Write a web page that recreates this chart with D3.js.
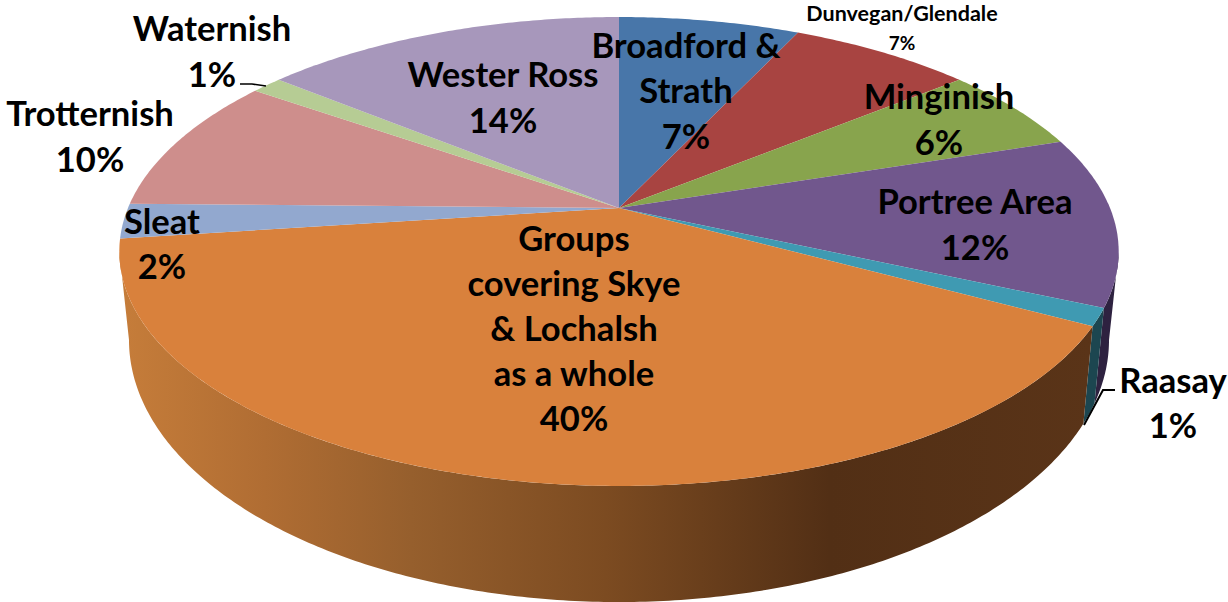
<!DOCTYPE html>
<html>
<head>
<meta charset="utf-8">
<script src="https://cdn.jsdelivr.net/npm/d3@7"></script>
<style>
  html,body{margin:0;padding:0;background:#fff;}
  svg{display:block;}
  text{font-family:Lato,"Open Sans",sans-serif;font-weight:700;fill:#000;}
</style>
</head>
<body>
<div id="chart"></div>
<script>
/* data, clockwise from 12 o'clock */
const AREAS=["Broadford & Strath","Dunvegan/Glendale","Minginish","Portree Area","Raasay",
             "Groups covering Skye & Lochalsh as a whole","Sleat","Trotternish","Waternish","Wester Ross"];
const SHARES=[7.0,7.1,5.9,11.7,1.2,40.0,2.4,9.4,1.2,14.1];
const PCT_LABELS=["7%","7%","6%","12%","1%","40%","2%","10%","1%","14%"];
const TOP_COLS=["#4876a9","#a84441","#88a44d","#71578d","#3f9ab2","#d9813c","#92a8cf","#ce8e8c","#b6cc94","#a797bb"];
const SIDE_COLS=["#2c4665","#652927","#516230","#2e2240","#1c4650","#d9813c","#576580","#7b5554","#6d7a59","#645a70"];

/* label text lines + where they sit */
const LABEL_LINES=[["Broadford &","Strath"],["Dunvegan/Glendale"],["Minginish"],["Portree Area"],["Raasay"],
                   ["Groups","covering Skye","& Lochalsh","as a whole"],["Sleat"],["Trotternish"],["Waternish"],["Wester Ross"]];
const LABEL_X=[686,902,939,975,1173,574,162,90,212,503];
const LABEL_Y=[44,13,95,200,379,237,220,112,27,73];
const LABEL_STEP=[45.5,29,46,46,45,45.2,45,46,46,46];
const LABEL_SIZE=[34.6,21.5,34.6,34.6,34.6,34.6,34.6,34.6,34.6,34.6];

const W=1228,H=602;
const svg=d3.select("#chart").append("svg").attr("width",W).attr("height",H);

/* perspective of the disc: k = foreshortening, top rim and bottom rim */
const CX=619,K=0.1855;
const TOP={b:491,a:226.4,y0:208};
const BOT={b:481.5,a:253,y0:291.4};
const project=(face,ang,r=1)=>{
  const u=r*Math.sin(ang), v=-r*Math.cos(ang), w=1-K*v;
  return [CX+face.b*u/w, face.y0+face.a*v/w];
};

const pie=d3.pie().sort(null).value(d=>d)(SHARES);
const line=d3.line();
const rim=(face,a0,a1)=>{
  const n=Math.max(2,Math.ceil(Math.abs(a1-a0)/0.01));
  return d3.range(n+1).map(i=>project(face,a0+(a1-a0)*i/n));
};

/* side wall: only between the two silhouette tangents */
const TAN_R=Math.PI-Math.acos(K), TAN_L=Math.PI+Math.acos(K);

const defs=svg.append("defs");
const grad=defs.append("linearGradient").attr("id","sideOrange")
  .attr("gradientUnits","userSpaceOnUse")
  .attr("x1",119).attr("x2",1092).attr("y1",0).attr("y2",0);
[[0,"#c67d3a"],[0.15,"#b06d33"],[0.3,"#965f2d"],[0.5,"#7c4b21"],[0.73,"#522f15"],[1,"#5a3418"]]
  .forEach(([o,c])=>grad.append("stop").attr("offset",o).attr("stop-color",c));

const sides=pie.map((d,i)=>({a0:Math.max(d.startAngle,TAN_R),a1:Math.min(d.endAngle,TAN_L),i}))
  .filter(d=>d.a1>d.a0);

svg.append("g").selectAll("path").data(sides).enter().append("path")
  .attr("d",d=>line([...rim(TOP,d.a0,d.a1),...rim(BOT,d.a1,d.a0)])+"Z")
  .attr("fill",d=>AREAS[d.i].startsWith("Groups")?"url(#sideOrange)":SIDE_COLS[d.i]);

/* top face */
svg.append("g").selectAll("path").data(pie).enter().append("path")
  .attr("d",d=>line([project(TOP,0,0),...rim(TOP,d.startAngle,d.endAngle)])+"Z")
  .attr("fill",(d,i)=>TOP_COLS[i]);

/* leader lines */
const LEADERS=[[[1115,390],[1103,390],[1084,425]],[[240,84],[252,84],[266,86]]];
const leaderW=[2,1.6];
svg.append("g").selectAll("path").data(LEADERS).enter().append("path")
  .attr("d",d=>line(d)).attr("fill","none").attr("stroke","#000").attr("stroke-width",(d,i)=>leaderW[i]);

/* labels */
const lab=svg.append("g").selectAll("g").data(AREAS).enter().append("g");
lab.each(function(d,i){
  const g=d3.select(this);
  const rows=[...LABEL_LINES[i],PCT_LABELS[i]];
  g.selectAll("text").data(rows).enter().append("text")
    .attr("x",LABEL_X[i])
    .attr("y",(t,j)=>LABEL_Y[i]+j*LABEL_STEP[i])
    .attr("text-anchor","middle")
    .attr("dominant-baseline","central")
    .style("font-size",(t,j)=>(i===1&&j===1?19:LABEL_SIZE[i])+"px")
    .text(t=>t);
});
</script>
</body>
</html>
